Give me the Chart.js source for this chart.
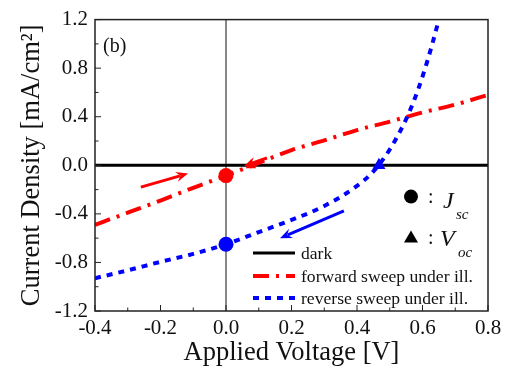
<!DOCTYPE html>
<html>
<head>
<meta charset="utf-8">
<script src="https://cdn.jsdelivr.net/npm/chart.js@4"></script>
<style>
	html, body { margin: 0; padding: 0; background: #fff; }
	#wrap { width: 508px; height: 369px; }
</style>
</head>
<body>
<div id="wrap"><canvas id="chart"></canvas></div>
<script>
(function () {
	'use strict';

	const FONT = "'Liberation Serif', 'Times New Roman', serif";

	// tick values
	const xTickValues = [-0.4, -0.2, 0.0, 0.2, 0.4, 0.6, 0.8];
	const yTickValues = [-1.2, -0.8, -0.4, 0.0, 0.4, 0.8, 1.2];

	// dark current
	const darkV = [-0.4, 0.8];
	const darkJ = [0.0, 0.0];

	// forward sweep under illumination
	const fwdV = [-0.4, -0.3, -0.2, -0.1, 0.0, 0.1, 0.2, 0.3, 0.4, 0.5, 0.6, 0.7, 0.8];
	const fwdJ = [-0.49, -0.39, -0.29, -0.185, -0.085, 0.02, 0.125, 0.205, 0.29, 0.36, 0.435, 0.50, 0.58];

	// reverse sweep under illumination
	const revV = [-0.4, -0.3, -0.2, -0.1, 0.0, 0.1, 0.2, 0.3, 0.4, 0.45, 0.5, 0.55, 0.575, 0.6, 0.63, 0.65];
	const revJ = [-0.93, -0.865, -0.795, -0.73, -0.65, -0.55, -0.45, -0.335, -0.17, -0.05, 0.13, 0.38, 0.54, 0.73, 1.0, 1.2];

	// Jsc (circles) and Voc (triangles): forward, reverse
	const jscV = [0.0, 0.0];
	const jscJ = [-0.085, -0.65];
	const vocV = [0.076, 0.467];
	const vocJ = [0.0, 0.0];

	// sweep direction arrows [fromV, fromJ, toV, toJ]
	const fwdArrows = [[-0.26, -0.18, -0.116, -0.068], [0.125, 0.06, 0.055, -0.005]];
	const revArrows = [[0.36, -0.375, 0.165, -0.60]];

	const legendLabels = ['dark', 'forward sweep under ill.', 'reverse sweep under ill.'];

	function pts(xs, ys) {
		return xs.map(function (v, i) { return { x: v, y: ys[i] }; });
	}

	function fmt(v) {
		return Math.abs(v) < 1e-9 ? '0.0' : v.toFixed(1);
	}

	function drawArrow(ctx, x1, y1, x2, y2, color) {
		const ang = Math.atan2(y2 - y1, x2 - x1);
		const c = Math.cos(ang), s = Math.sin(ang);
		const hl = 12, hw = 5;
		ctx.strokeStyle = color;
		ctx.fillStyle = color;
		ctx.lineWidth = 3;
		ctx.lineCap = 'butt';
		ctx.beginPath();
		ctx.moveTo(x1, y1);
		ctx.lineTo(x2 - hl * 0.7 * c, y2 - hl * 0.7 * s);
		ctx.stroke();
		ctx.beginPath();
		ctx.moveTo(x2, y2);
		ctx.lineTo(x2 - hl * c + hw * s, y2 - hl * s - hw * c);
		ctx.lineTo(x2 - hl * 0.65 * c, y2 - hl * 0.65 * s);
		ctx.lineTo(x2 - hl * c - hw * s, y2 - hl * s + hw * c);
		ctx.closePath();
		ctx.fill();
	}

	const overlay = {
		id: 'overlay',
		afterDatasetsDraw: function (chart) {
			const ctx = chart.ctx;
			const x = chart.scales.x, y = chart.scales.y;
			ctx.save();
			fwdArrows.forEach(function (a) {
				drawArrow(ctx, x.getPixelForValue(a[0]), y.getPixelForValue(a[1]),
					x.getPixelForValue(a[2]), y.getPixelForValue(a[3]), '#ff0000');
			});
			revArrows.forEach(function (a) {
				drawArrow(ctx, x.getPixelForValue(a[0]), y.getPixelForValue(a[1]),
					x.getPixelForValue(a[2]), y.getPixelForValue(a[3]), '#0000ff');
			});
			ctx.restore();
		},
		afterDraw: function (chart) {
			const ctx = chart.ctx;
			const a = chart.chartArea;
			const x = chart.scales.x, y = chart.scales.y;
			ctx.save();

			// frame
			ctx.strokeStyle = '#222';
			ctx.lineWidth = 1.5;
			ctx.strokeRect(a.left, a.top, a.right - a.left, a.bottom - a.top);

			// inward tick marks
			ctx.lineWidth = 1;
			ctx.beginPath();
			xTickValues.forEach(function (v, i) {
				const px = x.getPixelForValue(v);
				ctx.moveTo(px, a.bottom); ctx.lineTo(px, a.bottom - 6);
				if (i < xTickValues.length - 1) {
					const mx = x.getPixelForValue((v + xTickValues[i + 1]) / 2);
					ctx.moveTo(mx, a.bottom); ctx.lineTo(mx, a.bottom - 3.5);
				}
			});
			yTickValues.forEach(function (v, i) {
				const py = y.getPixelForValue(v);
				ctx.moveTo(a.left, py); ctx.lineTo(a.left + 6, py);
				if (i < yTickValues.length - 1) {
					const my = y.getPixelForValue((v + yTickValues[i + 1]) / 2);
					ctx.moveTo(a.left, my); ctx.lineTo(a.left + 3.5, my);
				}
			});
			ctx.stroke();

			// panel label
			ctx.fillStyle = '#111';
			ctx.textBaseline = 'middle';
			ctx.textAlign = 'left';
			ctx.font = '20px ' + FONT;
			ctx.fillText('(b)', a.left + 8, a.top + 27);

			// legend
			const lx = a.right - 235;
			const rows = [a.bottom - 58, a.bottom - 35, a.bottom - 13];
			legendLabels.forEach(function (label, i) {
				const ds = chart.data.datasets.find(function (d) { return d.label === label; });
				ctx.strokeStyle = ds.borderColor;
				ctx.lineWidth = ds.borderWidth;
				ctx.setLineDash(ds.borderDash || []);
				ctx.beginPath();
				ctx.moveTo(lx, rows[i]);
				ctx.lineTo(lx + 42, rows[i]);
				ctx.stroke();
				ctx.setLineDash([]);
				ctx.fillStyle = '#111';
				ctx.font = '17.6px ' + FONT;
				ctx.fillText(label, lx + 48, rows[i] + 1);
			});

			// Jsc / Voc key
			const kx = a.right - 77;
			const ky1 = a.top + 177, ky2 = a.top + 218;
			ctx.fillStyle = '#000';
			ctx.beginPath();
			ctx.arc(kx, ky1, 7, 0, Math.PI * 2);
			ctx.fill();
			ctx.beginPath();
			ctx.moveTo(kx, ky2 - 7);
			ctx.lineTo(kx + 7, ky2 + 5);
			ctx.lineTo(kx - 7, ky2 + 5);
			ctx.closePath();
			ctx.fill();

			ctx.fillStyle = '#111';
			ctx.textBaseline = 'alphabetic';
			ctx.font = '20px ' + FONT;
			ctx.fillText(':', kx + 17, ky1 + 6);
			ctx.fillText(':', kx + 17, ky2 + 6);
			ctx.font = 'italic 24px ' + FONT;
			ctx.fillText('J', kx + 32, ky1 + 11);
			ctx.fillText('V', kx + 29, ky2 + 8);
			ctx.font = 'italic 15px ' + FONT;
			ctx.fillText('sc', kx + 45, ky1 + 22);
			ctx.fillText('oc', kx + 47, ky2 + 19);

			ctx.restore();
		}
	};

	new Chart(document.getElementById('chart'), {
		type: 'scatter',
		data: {
			datasets: [
				{
					label: 'Jsc',
					data: pts(jscV, jscJ),
					showLine: false,
					pointStyle: 'circle',
					pointRadius: 7.5,
					pointBorderWidth: 0,
					pointBackgroundColor: ['#ff0000', '#0000ff'],
					pointBorderColor: ['#ff0000', '#0000ff']
				},
				{
					label: 'Voc',
					data: pts(vocV, vocJ),
					showLine: false,
					pointStyle: 'triangle',
					pointRadius: [6, 7.5],
					pointBorderWidth: 0,
					pointBackgroundColor: ['#ff0000', '#0000ff'],
					pointBorderColor: ['#ff0000', '#0000ff']
				},
				{
					label: 'reverse sweep under ill.',
					data: pts(revV, revJ),
					showLine: true,
					borderColor: '#0000ff',
					borderWidth: 4,
					borderDash: [6, 6],
					borderCapStyle: 'butt',
					cubicInterpolationMode: 'monotone',
					pointRadius: 0
				},
				{
					label: 'forward sweep under ill.',
					data: pts(fwdV, fwdJ),
					showLine: true,
					borderColor: '#ff0000',
					borderWidth: 4,
					borderDash: [16, 7, 3, 7],
					borderCapStyle: 'butt',
					cubicInterpolationMode: 'monotone',
					pointRadius: 0
				},
				{
					label: 'dark',
					data: pts(darkV, darkJ),
					showLine: true,
					borderColor: '#000000',
					borderWidth: 3,
					pointRadius: 0
				},
				{
					label: 'zero',
					data: [{ x: 0, y: yTickValues[0] }, { x: 0, y: yTickValues[yTickValues.length - 1] }],
					showLine: true,
					borderColor: '#111',
					borderWidth: 1,
					pointRadius: 0
				}
			]
		},
		options: {
			responsive: true,
			maintainAspectRatio: false,
			animation: false,
			devicePixelRatio: 1,
			layout: {
				padding: { left: 0, right: 20, top: 17, bottom: 0 }
			},
			plugins: {
				legend: { display: false },
				tooltip: { enabled: false }
			},
			scales: {
				x: {
					type: 'linear',
					min: -0.4,
					max: 0.8,
					afterBuildTicks: function (s) {
						s.ticks = xTickValues.map(function (v) { return { value: v }; });
					},
					afterFit: function (s) { s.height = 58; },
					grid: { display: false, drawTicks: false },
					border: { display: false },
					ticks: {
						color: '#111',
						padding: 5,
						maxRotation: 0,
						autoSkip: false,
						font: { family: FONT, size: 21 },
						callback: function (v) { return fmt(v); }
					},
					title: {
						display: true,
						text: 'Applied Voltage [V]',
						color: '#111',
						font: { family: FONT, size: 26.5 },
						padding: { top: 0, bottom: 0 }
					}
				},
				y: {
					type: 'linear',
					min: -1.2,
					max: 1.2,
					afterBuildTicks: function (s) {
						s.ticks = yTickValues.map(function (v) { return { value: v }; });
					},
					afterFit: function (s) { s.width = 95; },
					grid: { display: false, drawTicks: false },
					border: { display: false },
					ticks: {
						color: '#111',
						padding: 7,
						autoSkip: false,
						font: { family: FONT, size: 21 },
						callback: function (v) { return fmt(v); }
					},
					title: {
						display: true,
						text: 'Current Density [mA/cm²]',
						color: '#111',
						font: { family: FONT, size: 26.5 },
						padding: { top: 16, bottom: 0 }
					}
				}
			}
		},
		plugins: [overlay]
	});
})();
</script>
</body>
</html>
